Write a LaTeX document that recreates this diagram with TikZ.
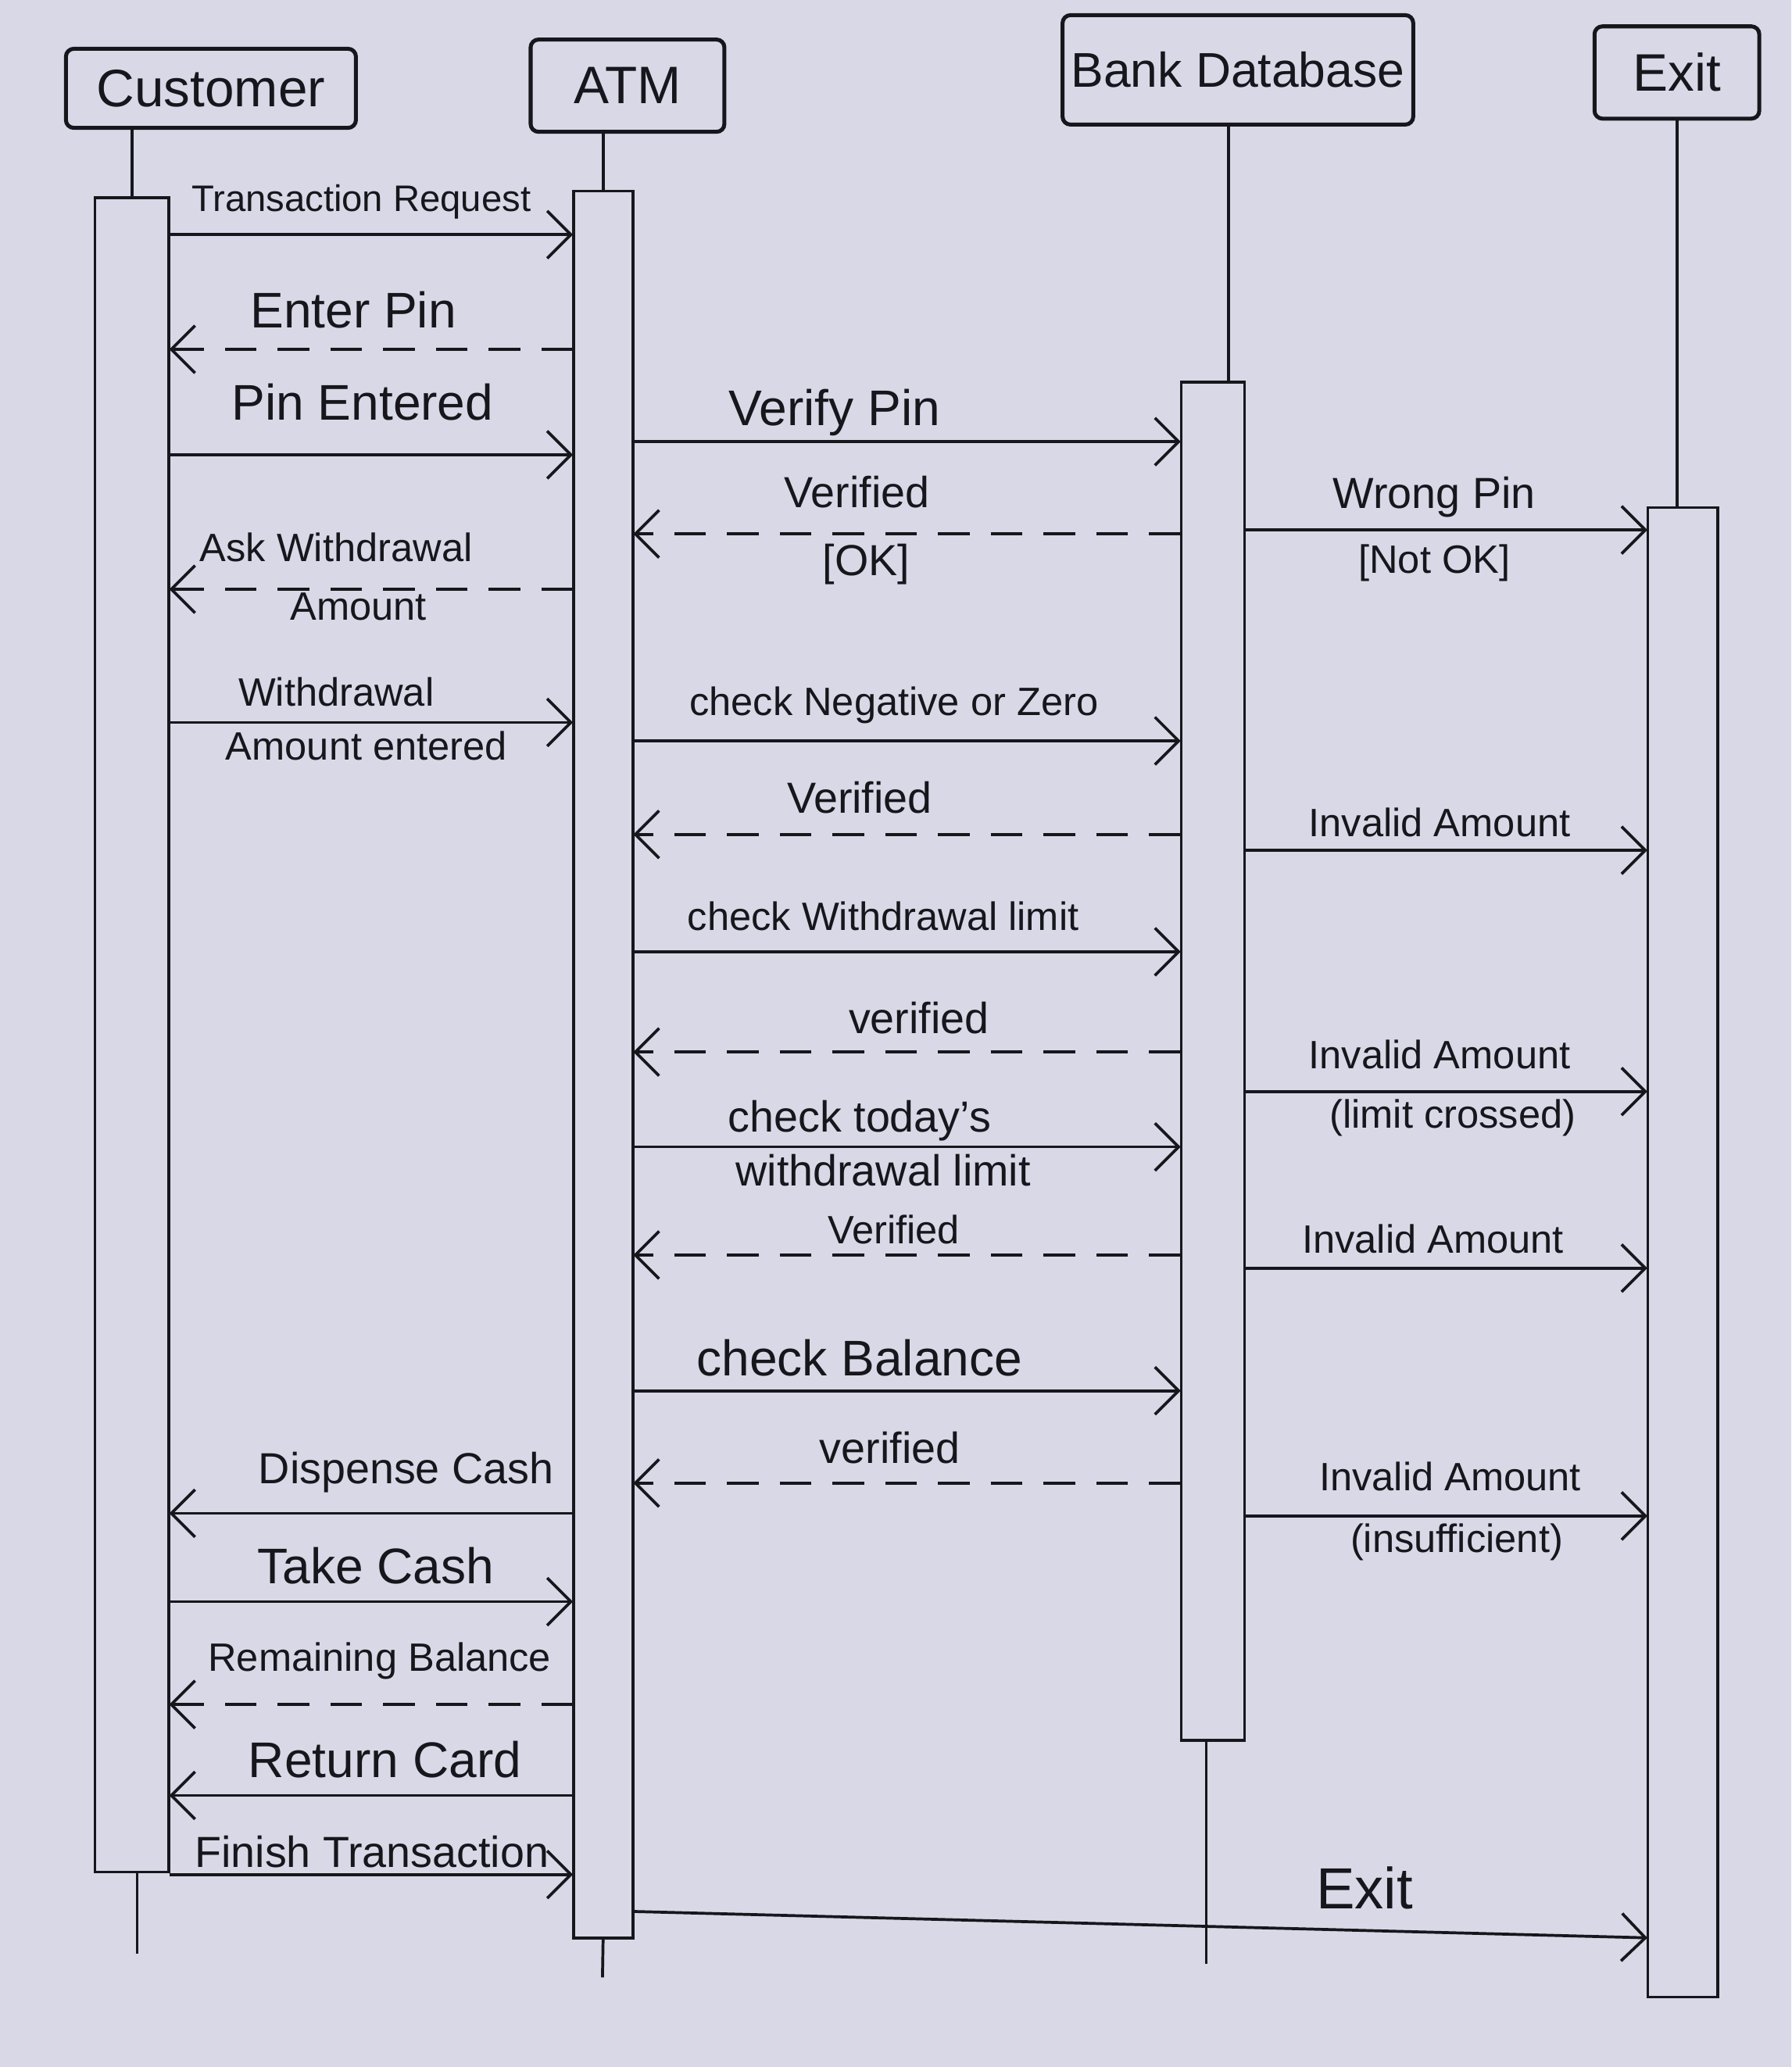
\documentclass[tikz,border=0pt]{standalone}
\usepackage{fontspec}
\setmainfont{Liberation Sans}
\usetikzlibrary{arrows.meta,fit}
\definecolor{paper}{RGB}{217,216,230}
\definecolor{ink}{RGB}{22,22,28}
\begin{document}
\begin{tikzpicture}[x=0.5pt,y=-0.5pt,
  actor/.style={draw=ink, line width=1.5pt, rounded corners=3pt, text=ink,
    font=\fontsize{20}{24}\selectfont, inner sep=0pt},
  bar/.style={draw=ink, line width=1.1pt, inner sep=0pt, fill=paper},
  life/.style={draw=ink, line width=1.1pt},
  msg/.style={draw=ink, line width=1.1pt,
    -{Straight Barb[length=9pt,width=18pt,line width=1.1pt]}},
  reply/.style={msg, dash pattern=on 12pt off 8pt},
  lbl/.style={text=ink, font=\fontsize{15}{18}\selectfont, inner sep=1pt},
  midlbl/.style={lbl, font=\fontsize{16.5}{20}\selectfont},
  biglbl/.style={lbl, font=\fontsize{19}{22}\selectfont}
]
\fill[paper] (0,0) rectangle (1359,1568);
\useasboundingbox (0,0) rectangle (1359,1568);

% participants
\node[actor, minimum width=110pt, minimum height=30pt] (cust) at (160,67) {Customer};
\node[actor, minimum width=73.5pt, minimum height=35pt] (atm) at (476,65) {ATM};
\node[actor, minimum width=133pt, minimum height=41.5pt, font=\fontsize{18.5}{22}\selectfont] (bank) at (939,53) {Bank Database};
\node[actor, minimum width=62.5pt, minimum height=35pt] (exit) at (1272,55) {Exit};

% lifeline ends
\coordinate (cend) at (104,1482);
\coordinate (aend) at (457,1500);
\coordinate (bend) at (915,1490);

% activation bars (nodes, geometry only)
\path node[fit={(72,150) (128,1420)}, inner sep=0pt] (cbar) {}
      node[fit={(435,145) (480,1470)}, inner sep=0pt] (abar) {}
      node[fit={(896,290) (944,1320)}, inner sep=0pt] (bbar) {}
      node[fit={(1250,385) (1303,1515)}, inner sep=0pt] (xbar) {};

% lifelines
\draw[life] (cust.south -| cbar.north) -- (cbar.north);
\draw[life] (cbar.south -| cend) -- (cend);
\draw[life] (atm.south -| abar.north) -- (abar.north);
\draw[life] (abar.south) -- (aend);
\draw[life] (bank.south -| 932,0) -- (bbar.north -| 932,0);
\draw[life] (bbar.south -| bend) -- (bend);
\draw[life] (exit.south) -- (exit.south |- xbar.north);

% bars drawn
\node[bar, fit={(72,150) (128,1420)}] (cbarD) {};
\node[bar, fit={(435,145) (480,1470)}] (abarD) {};
\node[bar, fit={(896,290) (944,1320)}] (bbarD) {};
\node[bar, fit={(1250,385) (1303,1515)}] (xbarD) {};

% messages Customer <-> ATM
\draw[msg]   (cbar.east |- 0,178) -- (abar.west |- 0,178);
\node[lbl, font=\fontsize{14}{17}\selectfont] (l1) at (274,153) {Transaction Request};
\draw[reply] (abar.west |- 0,265) -- (cbar.east |- 0,265);
\node[biglbl] (l2) at (268,235) {Enter Pin};
\draw[msg]   (cbar.east |- 0,345) -- (abar.west |- 0,345);
\node[biglbl] (l3) at (275,305) {Pin Entered};
\draw[reply] (abar.west |- 0,447) -- (cbar.east |- 0,447);
\node[lbl] (l7a) at (255,415) {Ask Withdrawal};
\node[lbl] (l7b) at (272,460) {Amount};
\draw[msg]   (cbar.east |- 0,548) -- (abar.west |- 0,548);
\node[lbl] (l8a) at (255,525) {Withdrawal};
\node[lbl] (l8b) at (278,566) {Amount entered};

% ATM <-> Bank
\draw[msg]   (abar.east |- 0,335) -- (bbar.west |- 0,335);
\node[biglbl] (l4) at (633,313) {Verify Pin};
\draw[reply] (bbar.west |- 0,405) -- (abar.east |- 0,405);
\node[midlbl] (l5a) at (650,373) {Verified};
\node[midlbl] (l5b) at (657,428) {[OK]};
\draw[msg]   (abar.east |- 0,562) -- (bbar.west |- 0,562);
\node[lbl] (l9) at (678,535) {check Negative or Zero};
\draw[reply] (bbar.west |- 0,633) -- (abar.east |- 0,633);
\node[midlbl] (l10) at (652,605) {Verified};
\draw[msg]   (abar.east |- 0,722) -- (bbar.west |- 0,722);
\node[lbl] (l12) at (670,695) {check Withdrawal limit};
\draw[reply] (bbar.west |- 0,798) -- (abar.east |- 0,798);
\node[midlbl] (l13) at (697,772) {verified};
\draw[msg]   (abar.east |- 0,870) -- (bbar.west |- 0,870);
\node[midlbl] (l15a) at (652,850) {check today's};
\node[midlbl] (l15b) at (670,888) {withdrawal limit};
\draw[reply] (bbar.west |- 0,952) -- (abar.east |- 0,952);
\node[lbl] (l16) at (678,933) {Verified};
\draw[msg]   (abar.east |- 0,1055) -- (bbar.west |- 0,1055);
\node[biglbl] (l18) at (652,1030) {check Balance};
\draw[reply] (bbar.west |- 0,1125) -- (abar.east |- 0,1125);
\node[midlbl] (l19) at (675,1098) {verified};

% Bank -> Exit
\draw[msg] (bbar.east |- 0,402) -- (xbar.west |- 0,402);
\node[midlbl] (l6a) at (1088,377) {Wrong Pin};
\node[lbl] (l6b) at (1088,427) {[Not OK]};
\draw[msg] (bbar.east |- 0,645) -- (xbar.west |- 0,645);
\node[lbl] (l11) at (1092,624) {Invalid Amount};
\draw[msg] (bbar.east |- 0,828) -- (xbar.west |- 0,828);
\node[lbl] (l14a) at (1092,800) {Invalid Amount};
\node[lbl] (l14b) at (1102,848) {(limit crossed)};
\draw[msg] (bbar.east |- 0,962) -- (xbar.west |- 0,962);
\node[lbl] (l17) at (1087,940) {Invalid Amount};
\draw[msg] (bbar.east |- 0,1150) -- (xbar.west |- 0,1150);
\node[lbl] (l20a) at (1100,1120) {Invalid Amount};
\node[lbl] (l20b) at (1105,1170) {(insufficient)};

% ATM <-> Customer, end of session
\draw[msg]   (abar.west |- 0,1148) -- (cbar.east |- 0,1148);
\node[midlbl] (l21) at (308,1117) {Dispense Cash};
\draw[msg]   (cbar.east |- 0,1215) -- (abar.west |- 0,1215);
\node[biglbl] (l22) at (285,1188) {Take Cash};
\draw[reply] (abar.west |- 0,1293) -- (cbar.east |- 0,1293);
\node[lbl] (l23) at (288,1260) {Remaining Balance};
\draw[msg]   (abar.west |- 0,1362) -- (cbar.east |- 0,1362);
\node[biglbl] (l24) at (292,1335) {Return Card};
\draw[msg]   (cbar.east |- 0,1422) -- (abar.west |- 0,1422);
\node[midlbl] (l25) at (282,1405) {Finish Transaction};

% ATM -> Exit
\draw[msg] (abar.east |- 0,1450) -- (xbar.west |- 0,1470);
\node[lbl, font=\fontsize{22}{26}\selectfont] (l26) at (1035,1432) {Exit};
\end{tikzpicture}
\end{document}
